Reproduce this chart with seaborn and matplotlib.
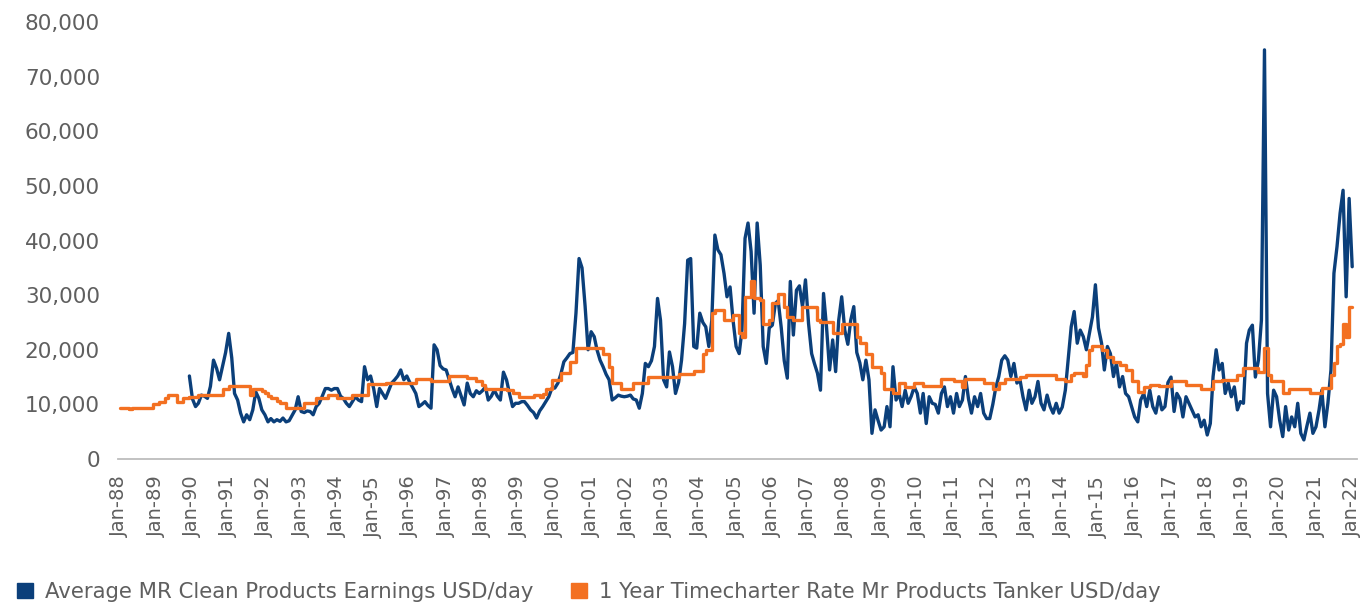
import numpy as np
import pandas as pd
import seaborn as sns
import matplotlib.pyplot as plt
import matplotlib.dates as mdates
from matplotlib.patches import Patch
from matplotlib.ticker import FuncFormatter

# monthly values, USD/day in thousands
# 1 Year Timecharter Rate, Jan-88 .. Jan-22
timecharter = [
    9.3, 9.3, 9.3, 9.1, 9.3, 9.3, 9.3, 9.3, 9.3, 9.3, 9.3, 10.0,           # 1988
    10.0, 10.5, 10.5, 11.1, 11.7, 11.7, 11.7, 10.5, 10.5, 11.1, 11.1, 11.4,  # 1989
    11.4, 11.4, 11.7, 11.7, 11.7, 11.7, 11.8, 11.8, 11.8, 11.8, 12.9, 12.9,  # 1990
    13.3, 13.3, 13.3, 13.3, 13.3, 13.3, 13.3, 11.7, 12.9, 12.9, 12.9, 12.5,  # 1991
    12.0, 11.5, 11.1, 11.1, 10.6, 10.2, 10.2, 9.4, 9.4, 9.4, 9.4, 9.4,      # 1992
    9.4, 10.2, 10.2, 10.2, 10.2, 11.1, 11.2, 11.2, 11.2, 11.7, 11.7, 11.7,   # 1993
    11.2, 11.2, 11.2, 11.2, 11.2, 11.7, 11.7, 11.7, 11.7, 11.7, 13.7, 13.7,  # 1994
    13.7, 13.7, 13.7, 13.7, 14.0, 14.0, 14.0, 14.0, 14.0, 14.0, 14.0, 14.0,  # 1995
    14.0, 14.0, 14.6, 14.6, 14.6, 14.6, 14.6, 14.3, 14.3, 14.3, 14.3, 14.3,  # 1996
    14.3, 15.2, 15.2, 15.2, 15.2, 15.2, 15.2, 14.8, 14.8, 14.8, 14.2, 14.2,  # 1997
    13.5, 12.9, 12.9, 12.9, 12.9, 12.9, 12.9, 12.9, 12.6, 12.6, 12.0, 12.0,  # 1998
    11.4, 11.4, 11.4, 11.4, 11.4, 11.7, 11.7, 11.4, 11.9, 12.9, 12.9, 14.5,  # 1999
    14.5, 14.5, 15.7, 15.7, 15.7, 17.8, 17.8, 20.3, 20.3, 20.3, 20.3, 20.3,  # 2000
    20.3, 20.3, 20.3, 20.3, 19.3, 19.3, 16.9, 13.9, 13.9, 13.9, 12.9, 12.9,  # 2001
    12.9, 12.9, 13.9, 13.9, 13.9, 13.9, 13.9, 15.1, 15.1, 15.1, 15.1, 15.1,  # 2002
    15.1, 15.1, 15.1, 15.1, 15.1, 15.5, 15.5, 15.5, 15.5, 15.5, 16.2, 16.2,  # 2003
    16.2, 19.3, 19.9, 19.9, 26.7, 27.3, 27.3, 27.3, 25.4, 25.4, 25.4, 26.3,  # 2004
    26.3, 23.0, 22.4, 29.7, 29.7, 32.5, 29.4, 29.4, 29.1, 24.8, 24.8, 25.4,  # 2005
    28.5, 28.5, 30.3, 30.3, 27.9, 26.0, 26.0, 25.4, 25.4, 25.4, 27.9, 27.9,  # 2006
    27.9, 27.9, 27.9, 25.4, 25.1, 25.1, 25.1, 25.1, 23.0, 23.0, 23.0, 24.7,  # 2007
    24.7, 24.7, 24.7, 24.7, 22.4, 21.2, 21.2, 19.3, 19.3, 16.9, 16.9, 16.9,  # 2008
    15.7, 12.9, 12.9, 12.9, 12.0, 12.0, 13.9, 13.9, 13.2, 13.2, 13.2, 14.0,  # 2009
    14.0, 14.0, 13.4, 13.4, 13.4, 13.4, 13.4, 13.4, 14.6, 14.6, 14.6, 14.6,  # 2010
    14.2, 14.2, 14.2, 13.2, 14.7, 14.7, 14.7, 14.7, 14.7, 14.7, 13.9, 13.9,  # 2011
    13.9, 12.8, 12.8, 13.9, 13.9, 14.6, 14.6, 14.6, 14.6, 14.6, 15.1, 15.1,  # 2012
    15.4, 15.4, 15.4, 15.4, 15.4, 15.4, 15.4, 15.4, 15.4, 15.4, 14.6, 14.6,  # 2013
    14.6, 14.2, 14.2, 15.4, 15.7, 15.7, 15.7, 15.2, 17.2, 20.0, 20.7, 20.7,  # 2014
    20.7, 20.0, 20.0, 18.7, 18.7, 17.8, 17.8, 17.2, 17.2, 16.3, 16.3, 14.2,  # 2015
    14.2, 12.3, 12.3, 13.2, 13.2, 13.6, 13.6, 13.6, 13.4, 13.4, 13.4, 13.4,  # 2016
    14.3, 14.3, 14.3, 14.3, 14.3, 13.6, 13.6, 13.6, 13.6, 13.6, 12.8, 12.8,  # 2017
    12.8, 12.8, 14.3, 14.3, 14.3, 14.4, 14.4, 14.4, 14.4, 14.4, 15.4, 15.4,  # 2018
    16.6, 16.6, 16.6, 16.6, 16.6, 16.0, 16.0, 20.3, 15.4, 14.3, 14.3, 14.3,  # 2019
    14.3, 12.0, 12.0, 12.8, 12.8, 12.8, 12.8, 12.8, 12.8, 12.8, 12.0, 12.0,  # 2020
    12.0, 12.0, 13.0, 13.0, 13.0, 15.4, 17.5, 20.6, 21.0, 24.8, 22.4, 27.9,  # 2021
    27.9,                                                                    # 2022
]

# Average MR Clean Products Earnings, Dec-89 .. Jan-22
earnings = [
    15.2,                                                                    # Dec 1989
    11.0, 9.6, 10.2, 11.7, 11.5, 11.1, 13.3, 18.1, 16.6, 14.5, 17.0, 19.5,   # 1990
    23.0, 18.5, 12.0, 10.8, 8.4, 6.8, 8.1, 7.2, 9.0, 12.3, 11.1, 9.0,        # 1991
    8.1, 6.8, 7.4, 6.8, 7.2, 6.9, 7.5, 6.8, 7.0, 8.0, 9.0, 11.4,             # 1992
    8.7, 8.5, 8.8, 8.7, 8.1, 9.6, 10.2, 11.5, 12.9, 12.9, 12.6, 12.9,        # 1993
    12.9, 11.5, 11.1, 10.2, 9.6, 10.5, 11.4, 10.8, 10.5, 16.9, 14.5, 15.2,   # 1994
    12.9, 9.6, 12.9, 12.0, 11.1, 12.5, 13.9, 14.5, 15.2, 16.3, 14.5, 15.2,   # 1995
    14.0, 13.0, 12.0, 9.6, 10.0, 10.5, 9.8, 9.3, 20.9, 20.0, 17.1, 16.5,     # 1996
    16.3, 14.5, 12.9, 11.4, 13.2, 11.5, 9.9, 13.9, 12.0, 11.4, 12.5, 12.0,   # 1997
    12.5, 13.2, 10.8, 11.5, 12.6, 11.5, 10.8, 15.9, 14.5, 12.0, 9.6, 10.2,   # 1998
    10.2, 10.5, 10.5, 9.8, 9.0, 8.5, 7.5, 8.8, 9.6, 10.5, 11.4, 12.9,        # 1999
    13.0, 13.9, 15.5, 17.8, 18.5, 19.3, 19.5, 26.7, 36.7, 35.0, 28.0, 20.0,  # 2000
    23.3, 22.4, 20.0, 18.1, 16.9, 15.5, 14.5, 10.8, 11.2, 11.7, 11.5, 11.4,  # 2001
    11.5, 11.7, 11.0, 10.8, 9.3, 12.0, 17.5, 16.9, 18.0, 20.6, 29.4, 25.4,   # 2002
    14.5, 13.2, 19.6, 16.9, 12.0, 14.0, 18.1, 24.8, 36.4, 36.7, 20.6, 20.3,  # 2003
    26.7, 25.0, 24.2, 20.6, 25.4, 41.0, 38.3, 37.4, 34.0, 29.7, 31.5, 25.4,  # 2004
    20.6, 19.3, 23.6, 40.4, 43.2, 38.0, 26.7, 43.2, 35.5, 20.6, 17.5, 24.0,  # 2005
    24.5, 28.5, 29.0, 24.0, 18.0, 14.8, 32.5, 22.7, 30.9, 31.7, 27.9, 32.8,  # 2006
    24.8, 19.3, 17.5, 15.7, 12.6, 30.3, 24.2, 16.3, 21.8, 16.0, 25.4, 29.7,  # 2007
    23.6, 21.0, 25.4, 27.9, 19.5, 17.6, 14.5, 18.1, 14.5, 4.7, 9.0, 7.1,     # 2008
    5.3, 5.9, 9.6, 5.9, 16.9, 10.8, 12.0, 9.6, 12.6, 10.2, 11.5, 13.2,       # 2009
    12.0, 8.4, 12.0, 6.5, 11.4, 10.2, 10.0, 8.4, 12.0, 13.2, 9.6, 11.4,      # 2010
    8.4, 12.0, 9.6, 10.8, 15.1, 11.0, 8.4, 11.4, 9.6, 12.0, 8.4, 7.4,        # 2011
    7.4, 10.0, 13.0, 15.1, 18.1, 18.9, 18.1, 15.1, 17.5, 13.9, 14.5, 11.4,   # 2012
    9.0, 12.6, 10.2, 11.4, 14.2, 10.2, 9.0, 11.7, 9.6, 8.4, 10.2, 8.4,       # 2013
    9.5, 12.6, 18.1, 24.2, 27.0, 21.2, 23.6, 22.4, 20.0, 23.0, 26.0, 31.9,   # 2014
    24.0, 21.2, 16.3, 20.6, 19.3, 15.1, 17.5, 13.2, 15.1, 12.0, 11.4, 9.6,   # 2015
    7.7, 6.8, 10.8, 12.0, 9.6, 12.6, 9.6, 8.4, 11.4, 9.0, 9.6, 14.0,         # 2016
    15.0, 8.7, 12.0, 11.0, 7.7, 11.4, 10.2, 9.0, 7.7, 8.1, 5.9, 7.1,         # 2017
    4.4, 6.5, 15.1, 20.0, 16.3, 17.5, 12.0, 13.9, 11.4, 13.2, 9.0, 10.5,     # 2018
    10.2, 21.2, 23.6, 24.5, 15.0, 18.1, 25.4, 74.9, 12.0, 5.9, 12.6, 11.4,   # 2019
    7.1, 4.1, 9.6, 5.3, 7.7, 5.9, 10.2, 4.7, 3.5, 6.0, 8.4, 4.7,             # 2020
    5.9, 9.0, 12.6, 5.9, 10.2, 16.3, 34.0, 38.9, 45.0, 49.2, 29.7, 47.7,     # 2021
    35.2,                                                                    # Jan 2022
]

tc_dates = pd.date_range("1988-01-01", periods=len(timecharter), freq="MS")
earn_dates = pd.date_range("1989-12-01", periods=len(earnings), freq="MS")

tc = pd.DataFrame({"date": tc_dates, "rate": np.array(timecharter) * 1000})
earn = pd.DataFrame({"date": earn_dates, "rate": np.array(earnings) * 1000})

blue = "#0b3f7a"
orange = "#f37021"
grey_txt = "#5f5f5f"

sns.set_theme(style="white")
plt.rcParams["font.family"] = ["DejaVu Sans"]

fig = plt.figure(figsize=(13.62, 6.05), dpi=100)
ax = fig.add_axes([0.0866, 0.2413, 0.9097, 0.7223])

sns.lineplot(data=earn, x="date", y="rate", color=blue, linewidth=2.4, ax=ax)
sns.lineplot(data=tc, x="date", y="rate", color=orange, linewidth=2.4,
             drawstyle="steps-post", ax=ax)

ax.set_ylim(0, 80000)
ax.set_yticks(range(0, 80001, 10000))
ax.yaxis.set_major_formatter(FuncFormatter(lambda v, p: f"{v:,.0f}"))
ax.set_xlim(pd.Timestamp("1987-12-12"), pd.Timestamp("2022-02-18"))
ax.xaxis.set_major_locator(mdates.YearLocator())
ax.xaxis.set_major_formatter(mdates.DateFormatter("%b-%y"))

ax.set_xlabel("")
ax.set_ylabel("")
ax.tick_params(axis="y", length=0, pad=13, labelsize=15.5, labelcolor=grey_txt)
ax.tick_params(axis="x", length=0, pad=12, labelsize=14, labelcolor=grey_txt,
               labelrotation=90)

for s in ["top", "right", "left"]:
    ax.spines[s].set_visible(False)
ax.spines["bottom"].set_color("#bdbdbd")
ax.spines["bottom"].set_linewidth(1.3)

handles = [Patch(color=blue, label="Average MR Clean Products Earnings USD/day"),
           Patch(color=orange, label="1 Year Timecharter Rate Mr Products Tanker USD/day")]
leg = fig.legend(handles=handles, loc="center left", bbox_to_anchor=(0.0125, 0.0215),
                 ncol=2, frameon=False, fontsize=15.3, borderpad=0, borderaxespad=0,
                 handlelength=0.75, handleheight=0.75, handletextpad=0.55,
                 columnspacing=1.8)
for t in leg.get_texts():
    t.set_color(grey_txt)

fig.savefig("out.png", dpi=100)
